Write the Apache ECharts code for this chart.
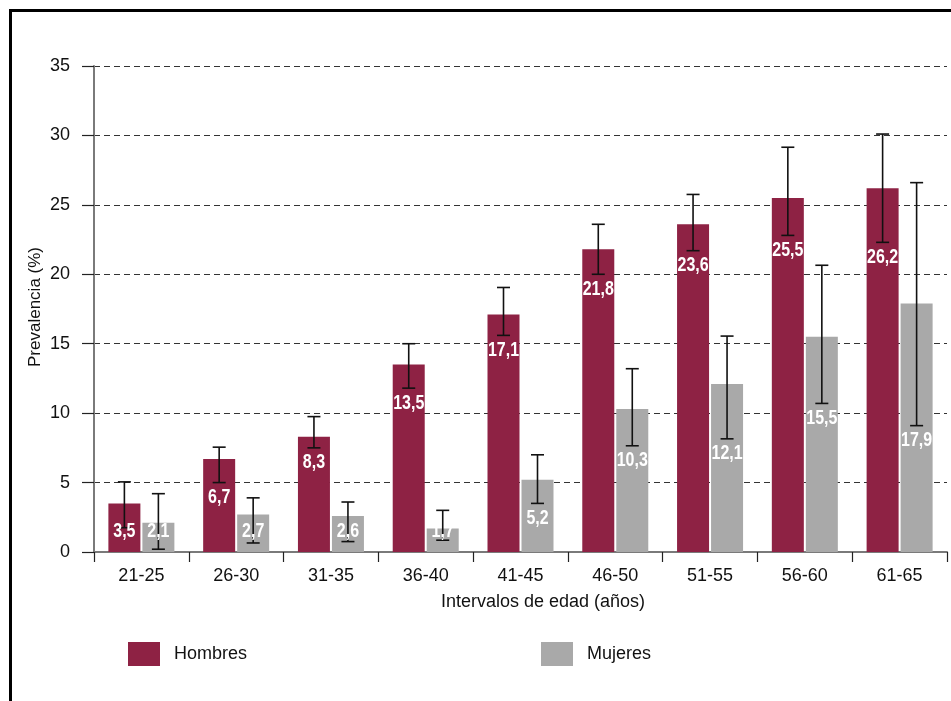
<!DOCTYPE html>
<html>
<head>
<meta charset="utf-8">
<script src="https://cdn.jsdelivr.net/npm/echarts@6/dist/echarts.min.js"></script>
<style>
  html, body { margin: 0; padding: 0; background: #fff; }
  #chart { width: 951px; height: 701px; }
</style>
</head>
<body>
<div id="chart"></div>
<script>
// Prevalencia por intervalos de edad y sexo, con intervalos de confianza
const categories = ['21-25', '26-30', '31-35', '36-40', '41-45', '46-50', '51-55', '56-60', '61-65'];
const hombres = [3.5, 6.7, 8.3, 13.5, 17.1, 21.8, 23.6, 25.5, 26.2];
const mujeres = [2.1, 2.7, 2.6, 1.7, 5.2, 10.3, 12.1, 15.5, 17.9];
const hombresLow = [1.75, 5.0, 7.5, 11.8, 15.6, 20.0, 21.7, 22.8, 22.3];
const hombresHigh = [5.05, 7.55, 9.75, 15.0, 19.05, 23.6, 25.75, 29.15, 30.1];
const mujeresLow = [0.2, 0.65, 0.75, 0.85, 3.5, 7.65, 8.15, 10.7, 9.1];
const mujeresHigh = [4.2, 3.9, 3.6, 3.0, 7.0, 13.2, 15.55, 20.65, 26.6];
const yTicks = { min: 0, max: 35, interval: 5 };

const FONT = "'Liberation Sans', Arial, sans-serif";
const RED = '#8e2244';
const GREY = '#a9a9a9';
const BAR_W = 32;
const BAR_GAP = 2;

const fmt = v => v.toFixed(1).replace('.', ',');

// Error whiskers plus the value label under the lower whisker
function whiskers(offset) {
  return function (params, api) {
    const i = api.value(0);
    const lo = api.coord([i, api.value(1)]);
    const hi = api.coord([i, api.value(2)]);
    const zero = api.coord([i, 0]);
    const x = lo[0] + offset;
    const cap = 6.5;
    const lineStyle = { stroke: '#111', lineWidth: 1.6 };
    const labelY = Math.min(lo[1] + 15, zero[1] - 21);
    return {
      type: 'group',
      children: [
        { type: 'line', shape: { x1: x, y1: hi[1], x2: x, y2: lo[1] }, style: lineStyle },
        { type: 'line', shape: { x1: x - cap, y1: hi[1], x2: x + cap, y2: hi[1] }, style: lineStyle },
        { type: 'line', shape: { x1: x - cap, y1: lo[1], x2: x + cap, y2: lo[1] }, style: lineStyle },
        {
          type: 'text', z2: 10,
          x: x, y: labelY, scaleX: 0.8, scaleY: 1,
          style: {
            text: fmt(api.value(3)), x: 0, y: 0,
            align: 'center', verticalAlign: 'middle',
            fill: '#fff', font: 'bold 20px ' + FONT
          }
        }
      ]
    };
  };
}

const chart = echarts.init(document.getElementById('chart'), null, { renderer: 'canvas' });

const legendBase = {
  orient: 'horizontal', top: 642, padding: 0, itemWidth: 32, itemHeight: 24,
  icon: 'rect', selectedMode: false,
  textStyle: { fontFamily: FONT, fontSize: 18, color: '#111', padding: [0, 0, 0, 9] }
};

chart.setOption({
  animation: false,
  backgroundColor: '#fff',
  grid: { left: 94, right: 4, top: 66, bottom: 149, containLabel: false },
  legend: [
    Object.assign({ left: 128, data: ['Hombres'] }, legendBase),
    Object.assign({ left: 541, data: ['Mujeres'] }, legendBase)
  ],
  xAxis: {
    type: 'category',
    data: categories,
    axisLine: { lineStyle: { color: '#7a7a7a', width: 2 } },
    axisTick: { show: true, length: 10, alignWithLabel: false, lineStyle: { color: '#222', width: 1.2 } },
    axisLabel: { margin: 15, fontFamily: FONT, fontSize: 18, color: '#111' },
    splitLine: { show: false }
  },
  yAxis: {
    type: 'value',
    min: yTicks.min, max: yTicks.max, interval: yTicks.interval,
    axisLine: { show: true, lineStyle: { color: '#7a7a7a', width: 2 } },
    axisTick: { show: true, length: 12, lineStyle: { color: '#222', width: 1.2 } },
    axisLabel: { margin: 24, fontFamily: FONT, fontSize: 18, color: '#111' },
    splitLine: { show: true, lineStyle: { color: '#333', width: 1.2, type: [6, 4] } }
  },
  graphic: [
    {
      type: 'rect', silent: true,
      shape: { x: 10.5, y: 10.5, width: 1200, height: 1200 },
      style: { fill: 'none', stroke: '#000', lineWidth: 3 }
    },
    {
      type: 'text', silent: true,
      x: 35, y: 307, rotation: Math.PI / 2,
      style: {
        text: 'Prevalencia (%)', x: 0, y: 0,
        align: 'center', verticalAlign: 'middle',
        font: '17px ' + FONT, fill: '#111'
      }
    },
    {
      type: 'text', silent: true,
      x: 543, y: 602,
      style: {
        text: 'Intervalos de edad (años)', x: 0, y: 0,
        align: 'center', verticalAlign: 'middle',
        font: '18px ' + FONT, fill: '#111'
      }
    }
  ],
  series: [
    {
      name: 'Hombres', type: 'bar', data: hombres,
      barWidth: BAR_W, barGap: (BAR_GAP / BAR_W * 100) + '%',
      itemStyle: { color: RED }
    },
    {
      name: 'Mujeres', type: 'bar', data: mujeres,
      barWidth: BAR_W,
      itemStyle: { color: GREY }
    },
    {
      type: 'custom', z: 5,
      renderItem: whiskers(-(BAR_W + BAR_GAP) / 2),
      encode: { x: 0, y: [1, 2] },
      data: categories.map((c, i) => [i, hombresLow[i], hombresHigh[i], hombres[i]])
    },
    {
      type: 'custom', z: 5,
      renderItem: whiskers((BAR_W + BAR_GAP) / 2),
      encode: { x: 0, y: [1, 2] },
      data: categories.map((c, i) => [i, mujeresLow[i], mujeresHigh[i], mujeres[i]])
    }
  ]
});
</script>
</body>
</html>
